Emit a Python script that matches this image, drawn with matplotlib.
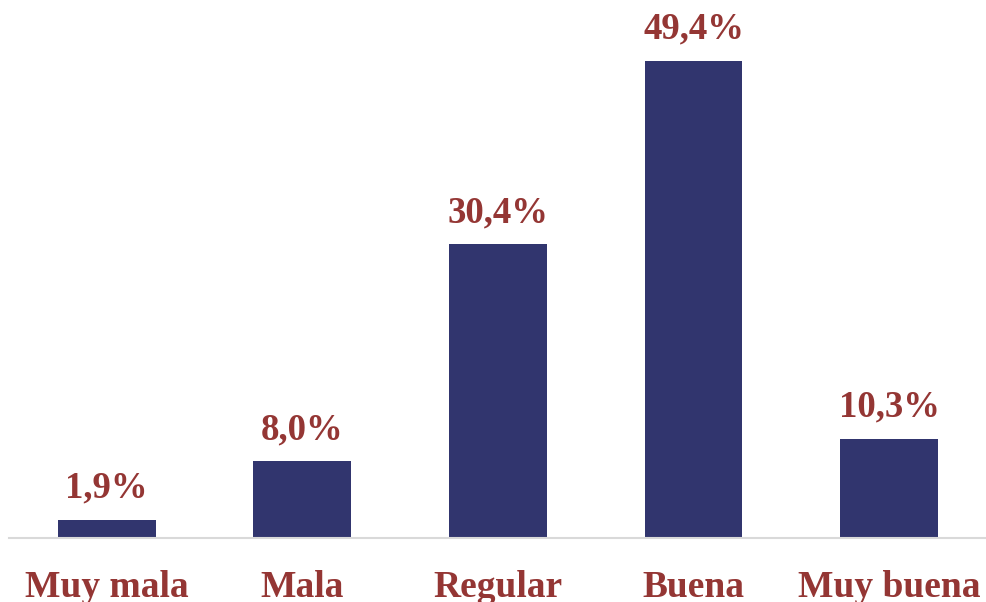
import matplotlib.pyplot as plt

categories = ['Muy mala', 'Mala', 'Regular', 'Buena', 'Muy buena']
values = [1.9, 8.0, 30.4, 49.4, 10.3]
labels = ['1,9%', '8,0%', '30,4%', '49,4%', '10,3%']

bar_color = '#31356E'
text_color = '#943634'

plt.rcParams['font.family'] = ['Liberation Serif', 'DejaVu Serif']

fig = plt.figure(figsize=(9.87, 6.02), dpi=100)
ax = fig.add_axes([0.009, 0.106, 0.991, 0.894])

x = range(len(categories))
bars = ax.bar(x, values, width=0.5, color=bar_color)

for b, lab in zip(bars, labels):
    ax.annotate(lab, (b.get_x() + b.get_width() / 2, b.get_height()),
                xytext=(0, 10), textcoords='offset points',
                ha='center', va='bottom', fontsize=26.5, fontweight='bold',
                color=text_color)

ax.set_xlim(-0.5, 4.5)
ax.set_ylim(0, 55.7)
ax.set_xticks(list(x))
ax.set_xticklabels(categories, fontsize=27, fontweight='bold', color=text_color)
ax.tick_params(axis='x', length=0, pad=23)
ax.set_yticks([])
for s in ['top', 'right', 'left']:
    ax.spines[s].set_visible(False)
ax.spines['bottom'].set_color('#D9D9D9')
ax.spines['bottom'].set_linewidth(1.5)

fig.savefig('out.png', dpi=100)
